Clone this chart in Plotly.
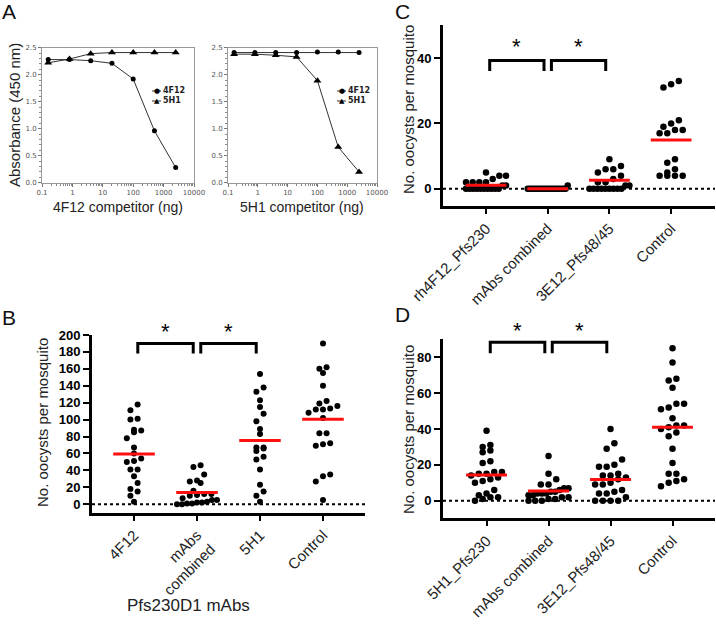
import plotly.graph_objects as go
import numpy as np

W, H = 716, 625

# ---------------- DATA ----------------
conc = [0.16, 0.8, 4, 20, 100, 500, 2500]
a1_4f12 = [2.28, 2.28, 2.26, 2.21, 1.92, 0.96, 0.28]
a1_5h1 = [2.22, 2.29, 2.39, 2.41, 2.41, 2.41, 2.41]
a2_4f12 = [2.41, 2.41, 2.41, 2.41, 2.42, 2.42, 2.41]
a2_5h1 = [2.38, 2.38, 2.36, 2.33, 1.89, 0.66, 0.20]
a_xticks = [0.1, 1, 10, 100, 1000, 10000]
a_xticktext = ["0.1", "1", "10", "100", "1000", "10000"]
a_yticks = [0.0, 0.5, 1.0, 1.5, 2.0, 2.5]

b_labels = ["4F12", "mAbs<br>combined", "5H1", "Control"]
b_4f12 = [118, 111, 101, 100, 88, 87, 85, 78, 67, 60, 54, 51, 50, 41, 41, 33, 25, 18, 15, 10, 3]
b_combined = [46, 44, 35, 28, 27, 25, 16, 12, 12, 11, 10, 7, 5, 5, 3, 2, 2, 1, 1, 0, 0]
b_5h1 = [154, 138, 133, 123, 115, 107, 98, 89, 83, 66, 67, 67, 63, 53, 56, 41, 23, 15, 10, 3]
b_control = [190, 160, 155, 162, 140, 119, 122, 116, 113, 108, 112, 112, 102, 84, 84, 69, 72, 71, 35, 33, 27, 5]
b_means = [59.4, 13.8, 75.2, 100.4]

c_labels = ["rh4F12_Pfs230", "mAbs combined", "3E12_Pfs48/45", "Control"]
c_rh4f12 = [5, 4, 4, 3, 2, 2, 2, 2, 1, 1, 0, 0, 0, 0, 0, 0, 0, 0, 0, 0]
c_combined = [1] + [0] * 19
c_3e12 = [9, 7, 6, 6, 5, 4, 3, 2, 2, 1, 1, 0, 0, 0, 0, 0, 0, 0, 0, 0]
c_control = [33, 32, 31, 21, 20, 19, 18, 18, 17, 17, 9, 8, 6, 5, 4, 4, 4, 4]
c_means = [1.1, 0.0, 2.6, 14.9]

d_labels = ["5H1_Pfs230", "mAbs combined", "3E12_Pfs48/45", "Control"]
d_5h1 = [39, 31, 30, 28, 27, 22, 21, 16, 16, 15, 15, 14, 13, 12, 11, 10, 6, 4, 3, 2, 2, 1, 0]
d_combined = [25, 15, 12, 9, 9, 7, 7, 6, 5, 5, 4, 4, 4, 3, 3, 2, 2, 1, 1, 0, 0, 0]
d_3e12 = [40, 32, 29, 23, 20, 19, 19, 15, 14, 14, 13, 12, 10, 9, 9, 6, 5, 4, 4, 2, 0, 0, 0, 0]
d_control = [85, 77, 68, 67, 63, 54, 54, 52, 51, 46, 42, 42, 41, 40, 38, 36, 29, 21, 15, 15, 12, 11, 10, 8]
d_means = [14.3, 5.4, 11.9, 40.9]

# brackets: (top, leg bottom, star level) in data units
b_br = (190, 178, 204)
c_br = (39.3, 36.1, 43.5)
d_br = (88.4, 82.2, 95)

# ---------------- helpers ----------------
def pxx(p):
    return p / W

def pxy(p):
    return 1 - p / H

ARIAL = "Liberation Sans"
VERD = "DejaVu Sans"

def swarm(values, center, ppx, ppy, binpx=8.0, step=7.0, maxhalf=20):
    """GraphPad-like scatter: points in the same vertical bin are spread horizontally."""
    vals = np.asarray(values, dtype=float)
    bins = {}
    for i, v in enumerate(vals):
        b = int(round(v * ppy / binpx))
        bins.setdefault(b, []).append(i)
    xs = np.zeros(len(vals))
    for b, idx in bins.items():
        n = len(idx)
        s = step if n <= 1 else min(step, 2 * maxhalf / (n - 1))
        idx_sorted = sorted(idx, key=lambda k: vals[k])
        for j, k in enumerate(idx_sorted):
            xs[k] = center + (j - (n - 1) / 2) * s / ppx
    return xs

def ann(x, y, text, size, family=ARIAL, color="#222", angle=0, xanchor="center", yanchor="middle"):
    return dict(xref="paper", yref="paper", x=x, y=y, text=text, textangle=angle, showarrow=False,
                font=dict(family=family, size=size, color=color), xanchor=xanchor, yanchor=yanchor)

fig = go.Figure()
shapes = []
annotations = []

# ---------------- Panel A ----------------
a_ydom = [pxy(182.7), pxy(47.7)]
a_doms = [[pxx(42), pxx(194)], [pxx(228), pxx(377)]]
for k, (c4, c5) in enumerate([(a1_4f12, a1_5h1), (a2_4f12, a2_5h1)]):
    xa = "x" if k == 0 else "x2"
    ya = "y" if k == 0 else "y2"
    fig.add_trace(go.Scatter(x=conc, y=c4, mode="lines+markers", xaxis=xa, yaxis=ya,
                             line=dict(color="#333", width=1),
                             marker=dict(symbol="circle", size=5, color="black"),
                             showlegend=False, cliponaxis=False))
    fig.add_trace(go.Scatter(x=conc, y=c5, mode="lines+markers", xaxis=xa, yaxis=ya,
                             line=dict(color="#333", width=1),
                             marker=dict(symbol="triangle-up", size=7, color="black"),
                             showlegend=False, cliponaxis=False))

minor_log = [m * 10.0 ** e for e in range(-1, 4) for m in range(2, 10)]
for k in range(2):
    xname = "xaxis" if k == 0 else "xaxis2"
    yname = "yaxis" if k == 0 else "yaxis2"
    fig.layout[xname] = dict(domain=a_doms[k], type="log", range=[-1, 4], automargin=False,
                             anchor="y" if k == 0 else "y2",
                             showline=True, linecolor="#999", linewidth=1, mirror=True,
                             ticks="outside", ticklen=3, tickcolor="#777",
                             tickvals=a_xticks, ticktext=a_xticktext,
                             tickfont=dict(family=VERD, size=7, color="#555"),
                             minor=dict(tickvals=minor_log, ticks="outside", ticklen=2, tickcolor="#888"),
                             showgrid=False, zeroline=False)
    fig.layout[yname] = dict(domain=a_ydom, range=[0, 2.5], automargin=False,
                             anchor="x" if k == 0 else "x2",
                             showline=True, linecolor="#999", linewidth=1, mirror=True,
                             ticks="outside", ticklen=3, tickcolor="#777",
                             tickvals=a_yticks, tickformat=".1f",
                             tickfont=dict(family=VERD, size=7, color="#555"),
                             minor=dict(dtick=0.1, ticks="outside", ticklen=2, tickcolor="#888"),
                             showgrid=False, zeroline=False)

# legends for A (manual)
for lx in [157, 342]:
    for ly, sym, name in [(91, "●", "4F12"), (101, "▲", "5H1")]:
        shapes.append(dict(type="line", xref="paper", yref="paper",
                           x0=pxx(lx - 5), x1=pxx(lx + 4), y0=pxy(ly), y1=pxy(ly),
                           line=dict(color="#333", width=1)))
        annotations.append(ann(pxx(lx), pxy(ly), sym, 7, family=VERD, color="black"))
        annotations.append(ann(pxx(lx + 4), pxy(ly), "<b>%s</b>" % name, 8, family=VERD,
                               xanchor="left"))

annotations += [
    ann(pxx(15), pxy(115), "Absorbance (450 nm)", 15, angle=-90),
    ann(pxx(118), pxy(207), "4F12 competitor (ng)", 14),
    ann(pxx(302), pxy(207), "5H1 competitor (ng)", 14),
]

# ---------------- Panels B, C, D ----------------
panels = [
    dict(ax=3, groups=[b_4f12, b_combined, b_5h1, b_control], means=b_means, labels=b_labels,
         xdom=[92, 365], ydom=[335, 512.7], yr=[-10, 200], xr=[-0.667, 3.667], ppx=63, ppy=0.8465,
         dtick=20, br=b_br, msize=6, tfs=13),
    dict(ax=4, groups=[c_rh4f12, c_combined, c_3e12, c_control], means=c_means, labels=c_labels,
         xdom=[443, 715], ydom=[25, 206], yr=[-5.3, 50.2], xr=[-0.697, 3.711], ppx=61.7, ppy=3.26,
         dtick=20, br=c_br, msize=6.5, tfs=13),
    dict(ax=5, groups=[d_5h1, d_combined, d_3e12, d_control], means=d_means, labels=d_labels,
         xdom=[443, 715], ydom=[339.3, 518.3], yr=[-9.8, 90], xr=[-0.702, 3.685], ppx=62, ppy=1.792,
         dtick=20, br=d_br, msize=6.5, tfs=13),
]

for p in panels:
    n = p["ax"]
    xa, ya = "x%d" % n, "y%d" % n
    xd0, xd1 = pxx(p["xdom"][0]), pxx(p["xdom"][1])
    yd0, yd1 = pxy(p["ydom"][1]), pxy(p["ydom"][0])

    def to_paper(xv, yv, p=p, xd0=xd0, xd1=xd1, yd0=yd0, yd1=yd1):
        fx = (xv - p["xr"][0]) / (p["xr"][1] - p["xr"][0])
        fy = (yv - p["yr"][0]) / (p["yr"][1] - p["yr"][0])
        return xd0 + fx * (xd1 - xd0), yd0 + fy * (yd1 - yd0)

    for ci, vals in enumerate(p["groups"]):
        xs = swarm(vals, ci, p["ppx"], p["ppy"], binpx=p["msize"] * 1.45, step=p["msize"] + 1.2)
        fig.add_trace(go.Scatter(x=xs, y=vals, mode="markers", xaxis=xa, yaxis=ya,
                                 marker=dict(size=p["msize"], color="black"),
                                 showlegend=False, cliponaxis=False))
    # zero dotted line
    shapes.append(dict(type="line", xref=xa, yref=ya, x0=p["xr"][0], x1=p["xr"][1], y0=0, y1=0,
                       line=dict(color="black", width=2, dash="dot"), layer="below"))
    # mean lines
    for ci, m in enumerate(p["means"]):
        shapes.append(dict(type="line", xref=xa, yref=ya, x0=ci - 0.33, x1=ci + 0.33, y0=m, y1=m,
                           line=dict(color="#ff1010", width=3)))
    # brackets
    top, leg, star = p["br"]
    for a, b in [(0, 1), (1, 2)]:
        x0, x1 = a + 0.06, b - 0.06
        shapes.append(dict(type="path", xref=xa, yref=ya,
                           path="M %f,%f L %f,%f L %f,%f L %f,%f" % (x0, leg, x0, top, x1, top, x1, leg),
                           line=dict(color="black", width=3)))
        sx, sy = to_paper((a + b) / 2, star)
        annotations.append(ann(sx, sy, "*", 22, color="black"))
    fig.layout["xaxis%d" % n] = dict(domain=[xd0, xd1], range=p["xr"], automargin=False,
                                     anchor=ya, showline=True, linecolor="black", linewidth=3,
                                     ticks="outside", ticklen=5, tickwidth=2, tickcolor="black",
                                     tickvals=[0, 1, 2, 3], ticktext=p["labels"], tickangle=-45,
                                     tickfont=dict(family=ARIAL, size=15, color="#222"),
                                     showgrid=False, zeroline=False)
    fig.layout["yaxis%d" % n] = dict(domain=[yd0, yd1], range=p["yr"], automargin=False,
                                     anchor=xa, showline=True, linecolor="black", linewidth=3,
                                     ticks="outside", ticklen=6, tickwidth=2, tickcolor="black",
                                     tick0=0, dtick=p["dtick"],
                                     tickfont=dict(family=ARIAL, size=p["tfs"], color="black", weight="bold"),
                                     showgrid=False, zeroline=False)

annotations += [
    ann(pxx(42), pxy(423), "No. oocysts per mosquito", 15, angle=-90),
    ann(pxx(409), pxy(110), "No. oocysts per mosquito", 15, angle=-90),
    ann(pxx(409), pxy(430), "No. oocysts per mosquito", 15, angle=-90),
    ann(pxx(188), pxy(605), "Pfs230D1 mAbs", 17),
]

# panel letters
for letter, lx, ly in [("A", 9, 12), ("B", 9, 317), ("C", 402, 12), ("D", 402, 314)]:
    annotations.append(ann(pxx(lx), pxy(ly), letter, 21, color="#111"))

fig.update_layout(width=W, height=H, margin=dict(l=0, r=0, t=0, b=0),
                  paper_bgcolor="white", plot_bgcolor="white",
                  shapes=shapes, annotations=annotations, showlegend=False)

fig.write_html("out.html", config={"displayModeBar": False},
               post_script="document.body.style.margin='0';document.body.style.overflow='hidden';")
